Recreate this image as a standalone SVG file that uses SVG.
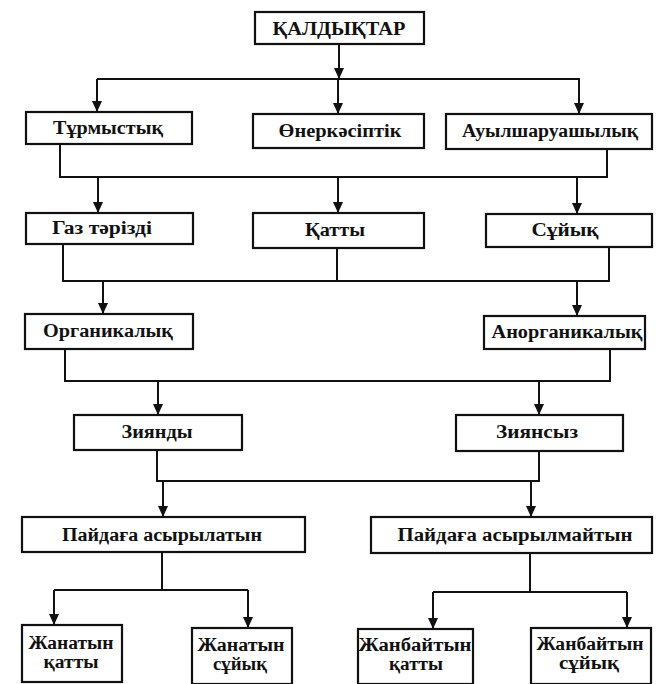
<svg xmlns="http://www.w3.org/2000/svg" width="656" height="684" viewBox="0 0 656 684">
<style>
.box{fill:#fff;stroke:#111;stroke-width:2.2}
.t{font-family:"Liberation Serif","DejaVu Serif",serif;font-weight:bold;font-size:18px;fill:#111;text-anchor:middle}
.c{fill:none;stroke:#111;stroke-width:2}
</style>
<defs>
<marker id="a" markerUnits="userSpaceOnUse" markerWidth="12" markerHeight="10" refX="11" refY="5" orient="auto" viewBox="0 0 12 10">
<path d="M0,0 L11,5 L0,10 z" fill="#111"/>
</marker>
</defs>
<rect width="656" height="684" fill="#fff"/>
<g id="connectors">
<path class="c" d="M339,44 V79" marker-end="url(#a)"/>
<path class="c" d="M97,79 H580"/>
<path class="c" d="M97,79 V112" marker-end="url(#a)"/>
<path class="c" d="M338,79 V114" marker-end="url(#a)"/>
<path class="c" d="M579,79 V114" marker-end="url(#a)"/>
<path class="c" d="M60,144 V177 H607 V149"/>
<path class="c" d="M98,177 V213" marker-end="url(#a)"/>
<path class="c" d="M338,177 V213" marker-end="url(#a)"/>
<path class="c" d="M577,177 V214" marker-end="url(#a)"/>
<path class="c" d="M63,244 V281 H609 V247"/>
<path class="c" d="M337,248 V281"/>
<path class="c" d="M103,281 V314" marker-end="url(#a)"/>
<path class="c" d="M577,281 V316" marker-end="url(#a)"/>
<path class="c" d="M65,349 V381 H610 V349"/>
<path class="c" d="M158,381 V415" marker-end="url(#a)"/>
<path class="c" d="M539,381 V415" marker-end="url(#a)"/>
<path class="c" d="M157,450 V481 H539 V451"/>
<path class="c" d="M163,481 V517" marker-end="url(#a)"/>
<path class="c" d="M531,481 V517" marker-end="url(#a)"/>
<path class="c" d="M162,552 V590"/>
<path class="c" d="M54,590 H248"/>
<path class="c" d="M54,590 V625" marker-end="url(#a)"/>
<path class="c" d="M248,590 V628" marker-end="url(#a)"/>
<path class="c" d="M530,553 V592"/>
<path class="c" d="M433,592 H627"/>
<path class="c" d="M433,592 V629" marker-end="url(#a)"/>
<path class="c" d="M627,592 V628" marker-end="url(#a)"/>
</g>
<g id="n-root"><rect class="box" x="255" y="12" width="169" height="32"/><text class="t" x="339" y="35" textLength="133" lengthAdjust="spacingAndGlyphs">ҚАЛДЫҚТАР</text></g>
<g id="n-turmystyq"><rect class="box" x="26" y="112" width="166" height="32"/><text class="t" x="108" y="134" textLength="110" lengthAdjust="spacingAndGlyphs">Тұрмыстық</text></g>
<g id="n-onerkasiptik"><rect class="box" x="253" y="114" width="171" height="34"/><text class="t" x="340" y="137" textLength="123" lengthAdjust="spacingAndGlyphs">Өнеркәсіптік</text></g>
<g id="n-auyl"><rect class="box" x="446" y="114" width="206" height="35"/><text class="t" x="550" y="137" textLength="176" lengthAdjust="spacingAndGlyphs">Ауылшаруашылық</text></g>
<g id="n-gaz"><rect class="box" x="26" y="213" width="167" height="31"/><text class="t" x="102" y="234" textLength="100" lengthAdjust="spacingAndGlyphs">Газ тәрізді</text></g>
<g id="n-qatty"><rect class="box" x="253" y="213" width="171" height="35"/><text class="t" x="335" y="236" textLength="60" lengthAdjust="spacingAndGlyphs">Қатты</text></g>
<g id="n-suiyq"><rect class="box" x="486" y="214" width="166" height="33"/><text class="t" x="565" y="236" textLength="67" lengthAdjust="spacingAndGlyphs">Сұйық</text></g>
<g id="n-organ"><rect class="box" x="25" y="314" width="168" height="35"/><text class="t" x="108" y="337" textLength="130" lengthAdjust="spacingAndGlyphs">Органикалық</text></g>
<g id="n-anorgan"><rect class="box" x="484" y="316" width="161" height="33"/><text class="t" x="567" y="338" textLength="151" lengthAdjust="spacingAndGlyphs">Анорганикалық</text></g>
<g id="n-ziyandy"><rect class="box" x="74" y="415" width="168" height="35"/><text class="t" x="157" y="438" textLength="71" lengthAdjust="spacingAndGlyphs">Зиянды</text></g>
<g id="n-ziyansyz"><rect class="box" x="456" y="415" width="167" height="36"/><text class="t" x="537" y="438" textLength="82" lengthAdjust="spacingAndGlyphs">Зиянсыз</text></g>
<g id="n-paid1"><rect class="box" x="22" y="517" width="283" height="35"/><text class="t" x="162" y="541" textLength="200" lengthAdjust="spacingAndGlyphs">Пайдаға асырылатын</text></g>
<g id="n-paid2"><rect class="box" x="371" y="517" width="281" height="36"/><text class="t" x="515" y="541" textLength="235" lengthAdjust="spacingAndGlyphs">Пайдаға асырылмайтын</text></g>
<g id="n-zh1"><rect class="box" x="22" y="625" width="100" height="57"/><text class="t" x="71" y="649" textLength="85" lengthAdjust="spacingAndGlyphs">Жанатын</text><text class="t" x="71" y="668" textLength="55" lengthAdjust="spacingAndGlyphs">қатты</text></g>
<g id="n-zh2"><rect class="box" x="192" y="628" width="100" height="56"/><text class="t" x="241" y="651" textLength="87" lengthAdjust="spacingAndGlyphs">Жанатын</text><text class="t" x="240" y="670" textLength="54" lengthAdjust="spacingAndGlyphs">сұйық</text></g>
<g id="n-zh3"><rect class="box" x="358" y="629" width="115" height="55"/><text class="t" x="415" y="651" textLength="113" lengthAdjust="spacingAndGlyphs">Жанбайтын</text><text class="t" x="416" y="670" textLength="54" lengthAdjust="spacingAndGlyphs">қатты</text></g>
<g id="n-zh4"><rect class="box" x="531" y="628" width="120" height="56"/><text class="t" x="590" y="650" textLength="107" lengthAdjust="spacingAndGlyphs">Жанбайтын</text><text class="t" x="589" y="669" textLength="60" lengthAdjust="spacingAndGlyphs">сұйық</text></g>
</svg>
